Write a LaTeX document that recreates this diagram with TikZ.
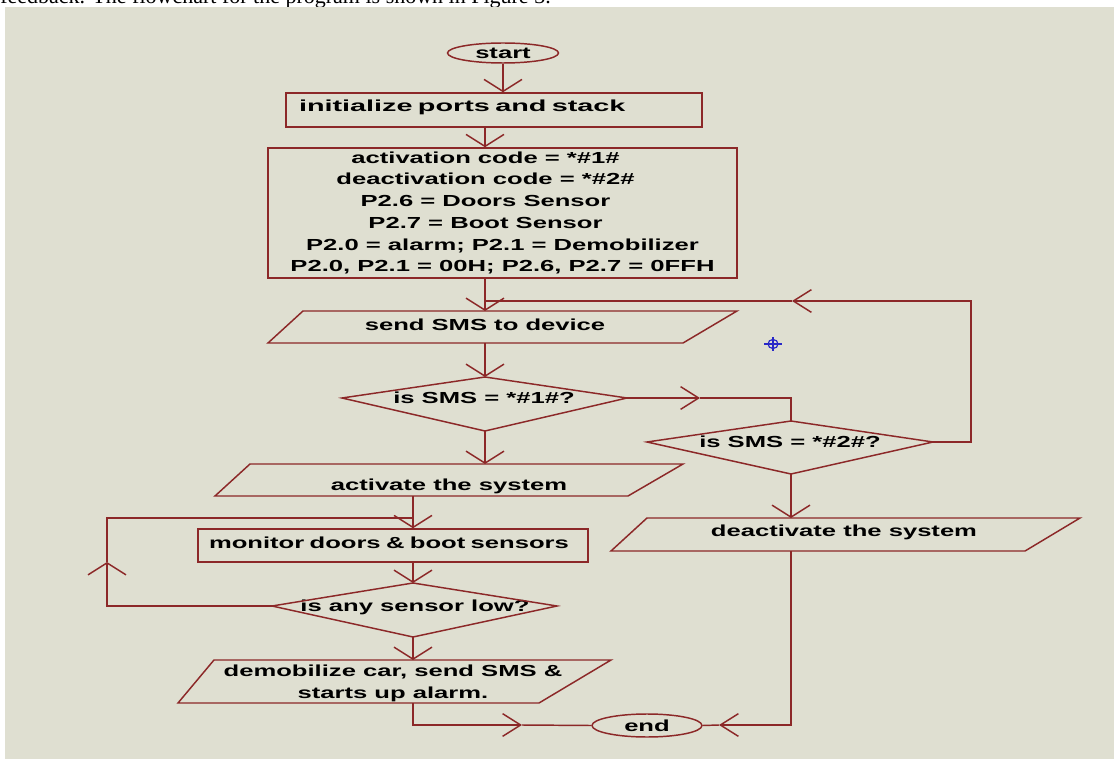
\documentclass[tikz,border=0pt]{standalone}
\usepackage{fontspec}
\usetikzlibrary{arrows.meta,shapes.geometric}
\newfontfamily\ff{Liberation Sans}[FakeStretch=1.6]
\newfontfamily\ffw{Liberation Sans}[FakeStretch=1.8]
\newfontfamily\pagefont{Liberation Serif}
\definecolor{bgc}{RGB}{223,223,209}
\definecolor{lnc}{RGB}{140,40,40}
\definecolor{mkc}{RGB}{40,40,200}
\begin{document}
\begin{tikzpicture}[x=0.75pt,y=-0.75pt,
  ln/.style={draw=lnc,line width=1.1pt},
  txt/.style={font=\ff\bfseries\fontsize{12pt}{16.3pt}\selectfont,text=black,inner sep=0pt},
  term/.style={ellipse,ln,txt,minimum width=83.25pt,minimum height=15pt},
  box/.style={rectangle,ln,txt},
  va/.style={ln,-{Straight Barb[length=9pt,width=28.5pt]}},
  ha/.style={ln,-{Straight Barb[length=13.5pt,width=17pt]}}]
\useasboundingbox (0,0) rectangle (1114,759);
\fill[white] (0,0) rectangle (1114,759);
\fill[bgc] (5,7) rectangle (1114,759);
\begin{scope}
\clip (0,0) rectangle (1114,7);
\node[anchor=base west,inner sep=0pt,font=\pagefont\fontsize{16.5pt}{18pt}\selectfont] (caption) at (0,3.5) {feedback. The flowchart for the program is shown in Figure 3.};
\end{scope}

% nodes
\node[term] (start) at (503,53) {start};
\node[box,font=\ffw\bfseries\fontsize{12pt}{16.3pt}\selectfont,text width=292.5pt,inner xsep=9.75pt,minimum height=25.5pt,align=left] (init) at (494,110) {\raisebox{2.25pt}[\height][\depth]{initialize ports and stack}};
\node[box,minimum width=351.75pt,minimum height=97.5pt,align=center] (cfg) at (502.5,213) {activation code = *\#1\#\kern25.5pt\\
deactivation code = *\#2\#\kern25.5pt\\
P2.6 = Doors Sensor\kern25.5pt\\
P2.7 = Boot Sensor\kern25.5pt\\
P2.0 = alarm; P2.1 = Demobilizer\\
P2.0, P2.1 = 00H; P2.6, P2.7 = 0FFH};
\node[txt] (sms) at (485,325) {send SMS to device};
\node[txt] (d1) at (484,398) {is SMS = *\#1\#?};
\node[txt] (d2) at (790,442) {is SMS = *\#2\#?};
\node[txt] (act) at (449,486) {activate the system};
\node[txt] (deact) at (844,532) {deactivate the system};
\node[box,text width=276pt,inner xsep=8.25pt,minimum height=24.75pt,align=left] (mon) at (393,545.5) {\raisebox{2.25pt}[\height][\depth]{monitor doors \& boot sensors}};
\node[txt] (d3) at (415,607) {is any sensor low?};
\node[txt,align=center] (demob) at (393,683) {demobilize car, send SMS \&\\starts up alarm.};
\node[term,minimum width=82.5pt,minimum height=17.25pt] (end) at (647,725.5) {end};

% shapes drawn directly
\draw[ln] (303,311) -- (737,311) -- (683,343) -- (268,343) -- cycle;
\draw[ln] (342,398) -- (485,377) -- (627,398) -- (485,431) -- cycle;
\draw[ln] (647,442) -- (791,421) -- (933,442) -- (791,474) -- cycle;
\draw[ln] (250,464) -- (683,464) -- (628,496) -- (215,496) -- cycle;
\draw[ln] (647,518) -- (1080,518) -- (1025,551) -- (611,551) -- cycle;
\draw[ln] (272,606) -- (413,583) -- (557,606) -- (413,637) -- cycle;
\draw[ln] (214,660) -- (611,660) -- (539,703) -- (178,703) -- cycle;

% connection points
\coordinate (smsT) at (485,311);
\coordinate (smsB) at (485,343);
\coordinate (d1T) at (485,377);
\coordinate (d1B) at (485,431);
\coordinate (d1R) at (627,398);
\coordinate (d2T) at (791,421);
\coordinate (d2R) at (933,442);
\coordinate (d2B) at (791,474);
\coordinate (actT) at (485,464);
\coordinate (actB) at (413,496);
\coordinate (deT) at (791,518);
\coordinate (deB) at (791,551);
\coordinate (d3T) at (413,583);
\coordinate (d3L) at (272,606);
\coordinate (d3B) at (413,637);
\coordinate (dmT) at (413,660);
\coordinate (dmB) at (413,703);
\coordinate (lpA) at (971,442);
\coordinate (lpB) at (971,301);
\coordinate (lpTip) at (792,301);
\coordinate (lpJ) at (485,301);
\coordinate (r1Tip) at (700,398);
\coordinate (llA) at (107,606);
\coordinate (llTip) at (107,562);
\coordinate (llB) at (107,518);
\coordinate (llJ) at (413,518);
\coordinate (bA) at (413,725);
\coordinate (bTip) at (522,725);
\coordinate (cA) at (791,725);
\coordinate (cTip) at (719,725);

% connectors
\draw[va] (start.south) -- (start.south |- init.north);
\draw[va] (init.south -| smsT) -- (cfg.north -| smsT);
\draw[va] (cfg.south -| smsT) -- (smsT);
\draw[ha] (d2R) -- (lpA) -- (lpB) -- (lpTip);
\draw[ln] (lpTip) -- (lpJ);
\draw[va] (smsB) -- (d1T);
\draw[ha] (d1R) -- (r1Tip);
\draw[ln] (r1Tip) -- (d2T |- d1R) -- (d2T);
\draw[va] (d1B) -- (actT);
\draw[va] (d2B) -- (deT);
\draw[va] (actB) -- (mon.north -| actB);
\draw[va] (mon.south -| actB) -- (d3T);
\draw[va] (d3L) -- (llA) -- (llTip);
\draw[ln] (llTip) -- (llB) -- (llJ);
\draw[va] (d3B) -- (dmT);
\draw[ha] (dmB) -- (bA) -- (bTip);
\draw[ln] (bTip) -- (end.west);
\draw[ha] (deB) -- (cA) -- (cTip);
\draw[ln] (cTip) -- (end.east);

% blue marker
\draw[mkc,line width=0.9pt] (773,344) ellipse [x radius=3.75pt,y radius=3.4pt];
\draw[mkc,line width=0.9pt] (764,344) -- (782,344) (773,337) -- (773,351);
\end{tikzpicture}
\end{document}
